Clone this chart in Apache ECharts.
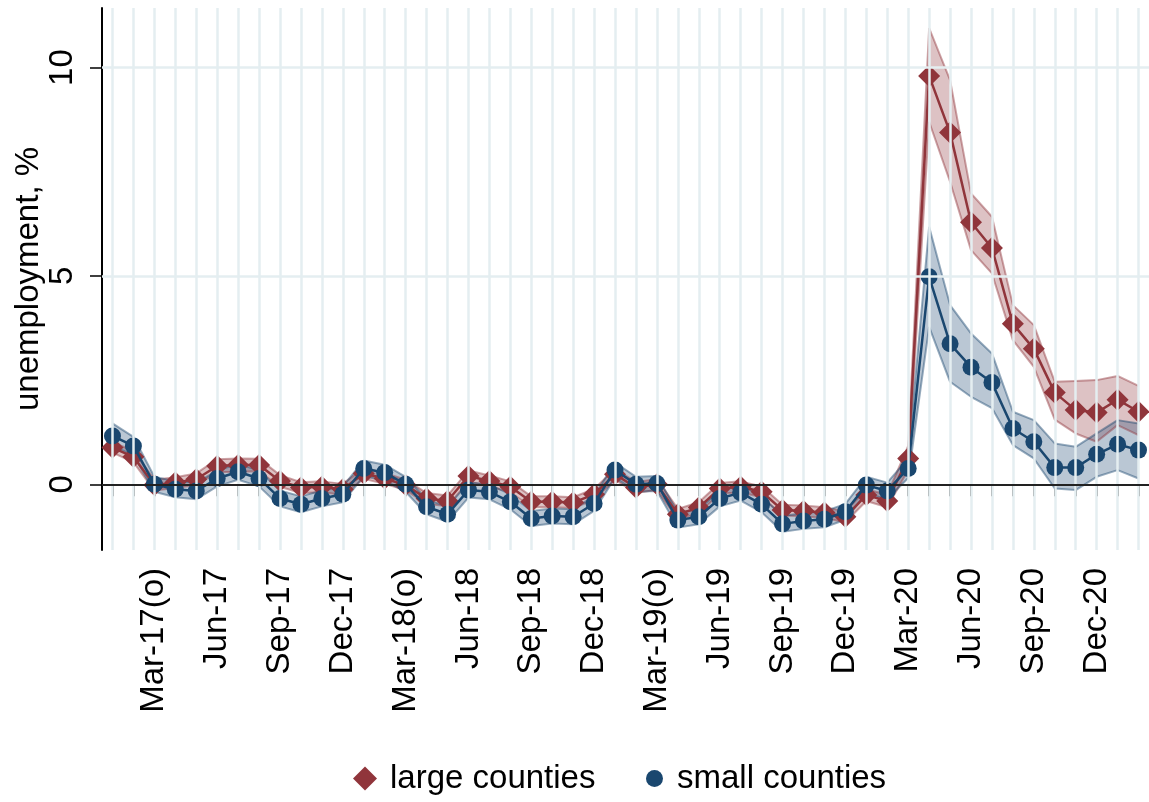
<!DOCTYPE html>
<html><head><meta charset="utf-8">
<script src="https://cdn.jsdelivr.net/npm/echarts@6/dist/echarts.min.js"></script>
<style>html,body{margin:0;padding:0;background:#fff}#c{width:1149px;height:802px}</style>
</head><body><div id="c"></div>
<script>
const months = ['Jan-17','Feb-17','Mar-17(o)','Apr-17','May-17','Jun-17','Jul-17','Aug-17','Sep-17','Oct-17','Nov-17','Dec-17',
  'Jan-18','Feb-18','Mar-18(o)','Apr-18','May-18','Jun-18','Jul-18','Aug-18','Sep-18','Oct-18','Nov-18','Dec-18',
  'Jan-19','Feb-19','Mar-19(o)','Apr-19','May-19','Jun-19','Jul-19','Aug-19','Sep-19','Oct-19','Nov-19','Dec-19',
  'Jan-20','Feb-20','Mar-20','Apr-20','May-20','Jun-20','Jul-20','Aug-20','Sep-20','Oct-20','Nov-20','Dec-20',
  'Jan-21','Feb-21'];
const tickLabels = ['Mar-17(o)','Jun-17','Sep-17','Dec-17','Mar-18(o)','Jun-18','Sep-18','Dec-18',
  'Mar-19(o)','Jun-19','Sep-19','Dec-19','Mar-20','Jun-20','Sep-20','Dec-20'];
const yTicks = [0, 5, 10];
const gridY = [5, 10];

const large = [0.88,0.66,-0.02,0.04,0.12,0.44,0.46,0.46,0.08,-0.08,-0.06,-0.12,
  0.26,0.14,-0.02,-0.34,-0.40,0.20,0.08,-0.06,-0.42,-0.42,-0.44,-0.24,
  0.24,-0.08,0.00,-0.72,-0.56,-0.10,-0.06,-0.18,-0.62,-0.64,-0.68,-0.78,
  -0.26,-0.40,0.62,9.80,8.44,6.29,5.67,3.85,3.25,2.20,1.78,1.72,2.03,1.74];
const largeLo = [0.76,0.53,-0.15,-0.09,-0.02,0.29,0.30,0.31,-0.06,-0.21,-0.19,-0.25,
  0.13,0.01,-0.14,-0.47,-0.53,0.07,-0.05,-0.19,-0.55,-0.55,-0.57,-0.37,
  0.11,-0.21,-0.13,-0.85,-0.69,-0.23,-0.19,-0.31,-0.75,-0.77,-0.81,-0.91,
  -0.40,-0.55,0.35,8.70,7.26,5.62,5.06,3.46,2.82,1.55,1.22,1.02,1.42,1.18];
const largeHi = [1.01,0.80,0.11,0.17,0.26,0.60,0.62,0.61,0.22,0.05,0.07,0.01,
  0.39,0.27,0.11,-0.21,-0.27,0.33,0.21,0.07,-0.29,-0.29,-0.31,-0.11,
  0.37,0.05,0.13,-0.59,-0.43,0.03,0.07,-0.05,-0.49,-0.51,-0.55,-0.65,
  -0.12,-0.25,0.92,10.95,9.70,6.98,6.42,4.30,3.82,2.46,2.48,2.50,2.60,2.36];

const small = [1.16,0.92,0.00,-0.12,-0.16,0.14,0.30,0.14,-0.34,-0.48,-0.34,-0.24,
  0.38,0.28,0.00,-0.54,-0.72,-0.14,-0.18,-0.42,-0.82,-0.76,-0.78,-0.46,
  0.34,0.00,0.02,-0.86,-0.78,-0.34,-0.20,-0.48,-0.95,-0.88,-0.84,-0.66,
  -0.02,-0.16,0.38,4.98,3.37,2.81,2.44,1.34,1.02,0.40,0.40,0.72,0.96,0.82];
const smallLo = [0.92,0.70,-0.18,-0.31,-0.36,-0.05,0.11,-0.05,-0.53,-0.67,-0.53,-0.43,
  0.19,0.09,-0.18,-0.72,-0.90,-0.32,-0.36,-0.60,-1.00,-0.94,-0.96,-0.64,
  0.16,-0.18,-0.16,-1.04,-0.96,-0.53,-0.39,-0.67,-1.14,-1.07,-1.03,-0.85,
  -0.22,-0.36,0.15,3.78,2.46,2.10,1.83,0.94,0.62,-0.10,-0.14,0.18,0.34,0.14];
const smallHi = [1.46,1.14,0.18,0.07,0.04,0.33,0.49,0.33,-0.15,-0.29,-0.15,-0.05,
  0.57,0.47,0.18,-0.36,-0.54,0.04,0.00,-0.24,-0.64,-0.58,-0.60,-0.28,
  0.52,0.18,0.20,-0.68,-0.60,-0.15,-0.01,-0.29,-0.76,-0.69,-0.65,-0.47,
  0.18,0.04,0.62,6.18,4.30,3.62,3.14,1.74,1.54,0.98,0.90,1.22,1.54,1.46];

const RED = '#90353b', BLUE = '#1a476f';
const FONT = '"Liberation Sans", Arial, Helvetica, sans-serif';
const GRIDC = '#e4eef1';

function diff(hi, lo) { return hi.map((v, i) => +(v - lo[i]).toFixed(3)); }

const chart = echarts.init(document.getElementById('c'), null, {renderer: 'canvas'});
const bandBase = (name, stack, data, edge) => ({
  name, type: 'line', stack, stackStrategy: 'all', data, symbol: 'none', silent: true,
  lineStyle: {color: edge, width: 2}, z: 2
});
chart.setOption({
  animation: false,
  backgroundColor: '#fff',
  textStyle: {fontFamily: FONT, color: '#000'},
  grid: {left: 102, right: 0, top: 8, bottom: 252, outerBoundsMode: 'none'},
  xAxis: {
    type: 'category', data: months, boundaryGap: true,
    axisLine: {lineStyle: {color: '#000', width: 2}},
    axisTick: {show: true, alignWithLabel: true, interval: 0, length: 12, lineStyle: {color: '#000', width: 1.5}},
    axisLabel: {rotate: 90, fontSize: 33, color: '#000', fontFamily: FONT, margin: 18,
      interval: (idx, val) => tickLabels.includes(val)},
    splitLine: {show: false}
  },
  yAxis: {
    type: 'value', min: -1.577, max: 11.43,
    axisLine: {show: true, lineStyle: {color: '#000', width: 2}},
    axisTick: {show: true, length: 12, customValues: yTicks, lineStyle: {color: '#000', width: 1.5}},
    axisLabel: {rotate: 90, fontSize: 33, color: '#000', fontFamily: FONT, margin: 23, customValues: yTicks},
    splitLine: {show: false},
    name: 'unemployment, %', nameLocation: 'middle', nameGap: 57, nameMoveOverlap: false,
    nameTextStyle: {fontSize: 33, color: '#000', fontFamily: FONT}
  },
  legend: [
    {data: [{name: 'large counties', icon: 'diamond'}], left: 353, top: 762, padding: 0,
      itemWidth: 24, itemHeight: 24, textStyle: {fontSize: 33, color: '#000', fontFamily: FONT, padding: [0, 0, 0, 8]}},
    {data: [{name: 'small counties', icon: 'circle'}], left: 646, top: 762, padding: 0,
      itemWidth: 17, itemHeight: 17, textStyle: {fontSize: 33, color: '#000', fontFamily: FONT, padding: [0, 0, 0, 9]}}
  ],
  series: [
    {name: 'gridlines', type: 'line', data: months.map(() => null), silent: true, z: 0, symbol: 'none',
      markLine: {
        silent: true, symbol: ['none', 'none'], label: {show: false},
        data: [
          ...months.map(m => ({xAxis: m, lineStyle: {color: GRIDC, width: 2.5, type: 'solid'}})),
          ...gridY.map(v => ({yAxis: v, lineStyle: {color: GRIDC, width: 2.5, type: 'solid'}})),
          {yAxis: 0, lineStyle: {color: '#222', width: 2, type: 'solid'}}
        ]
      }
    },
    bandBase('largeLo', 'L', largeLo, 'rgba(144,53,59,0.45)'),
    Object.assign(bandBase('largeBand', 'L', diff(largeHi, largeLo), 'rgba(144,53,59,0.45)'), {
      areaStyle: {color: 'rgba(144,53,59,0.3)', opacity: 1}
    }),
    bandBase('smallLo', 'S', smallLo, 'rgba(26,71,111,0.45)'),
    Object.assign(bandBase('smallBand', 'S', diff(smallHi, smallLo), 'rgba(26,71,111,0.45)'), {
      areaStyle: {color: 'rgba(26,71,111,0.3)', opacity: 1}
    }),
    {name: 'large counties', type: 'line', data: large, symbol: 'diamond', symbolSize: 22, showAllSymbol: true,
      itemStyle: {color: RED}, lineStyle: {color: RED, width: 2.5}, z: 3},
    {name: 'small counties', type: 'line', data: small, symbol: 'circle', symbolSize: 17, showAllSymbol: true,
      itemStyle: {color: BLUE}, lineStyle: {color: BLUE, width: 2.5}, z: 4}
  ]
});
</script></body></html>
